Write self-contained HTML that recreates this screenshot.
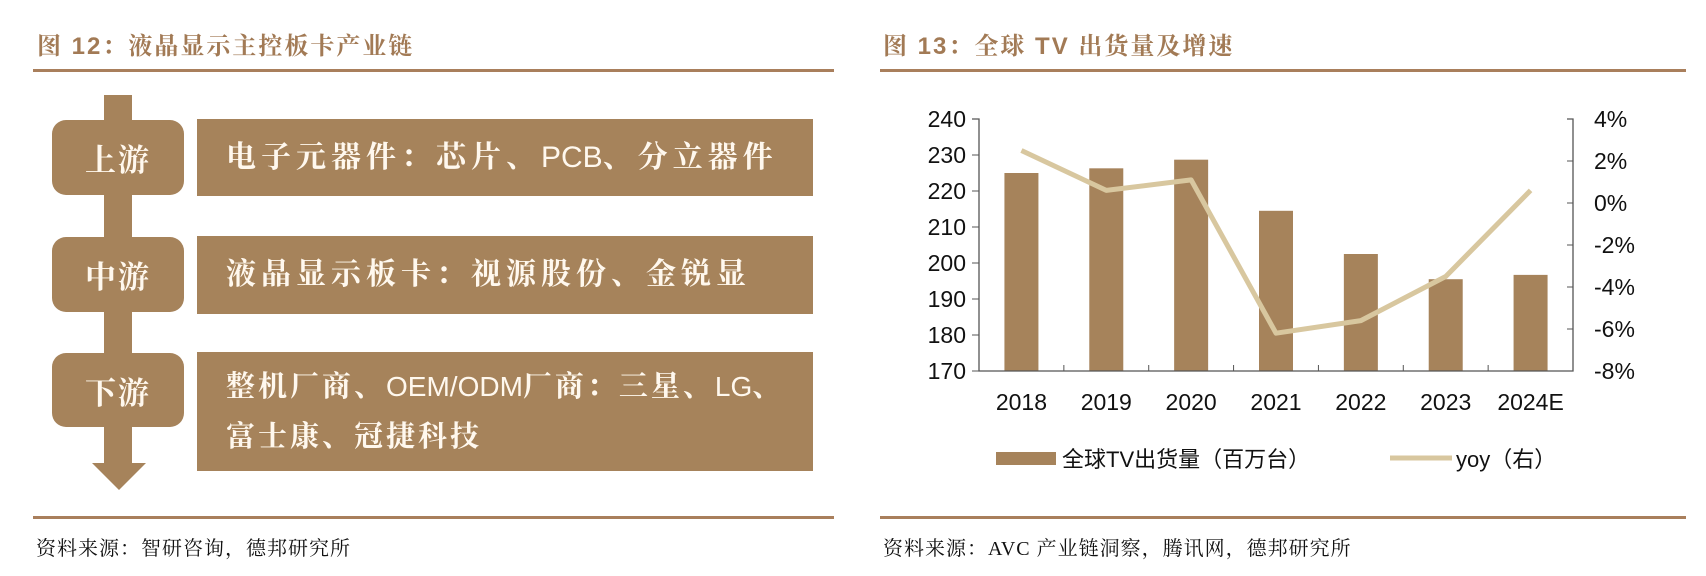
<!DOCTYPE html>
<html><head><meta charset="utf-8"><style>
body{margin:0;width:1706px;height:576px;background:#fff;position:relative;overflow:hidden;font-family:"Liberation Sans","Noto Sans CJK SC",sans-serif}
.abs{position:absolute}
.title{font-family:"Liberation Sans","Noto Serif CJK SC",serif;font-weight:bold;color:#a27a55;font-size:24px;letter-spacing:2px;white-space:nowrap}
.rule{background:#a97f5c;height:3px}
.src{font-family:"Liberation Serif","Noto Serif CJK SC",serif;font-size:20px;color:#111;white-space:nowrap;letter-spacing:1px}
.box{background:#a6835b;border-radius:14px;color:#fff8ee;font-family:"Liberation Serif","Noto Serif CJK SC",serif;font-weight:bold;font-size:31px;letter-spacing:2px;display:flex;align-items:center;justify-content:center}
.rect{background:#a6835b;color:#fff8ee;font-family:"Liberation Sans","Noto Serif CJK SC",serif;font-weight:bold;font-size:30px;letter-spacing:5px;padding-left:29px;box-sizing:border-box;display:flex;align-items:center;line-height:50px;white-space:nowrap}
.lat{letter-spacing:0;font-weight:normal;font-size:30px}
</style></head><body>
<div class="abs title" style="left:37px;top:26px">图 12：液晶显示主控板卡产业链</div>
<div class="abs rule" style="left:33px;top:69px;width:801px"></div>
<div class="abs" style="left:104px;top:95px;width:28px;height:370px;background:#a6835b"></div>
<div class="abs" style="left:92px;top:463px;width:0;height:0;border-left:27px solid transparent;border-right:27px solid transparent;border-top:27px solid #a6835b"></div>
<div class="abs box" style="left:52px;top:120px;width:132px;height:75px">上游</div>
<div class="abs box" style="left:52px;top:237px;width:132px;height:75px">中游</div>
<div class="abs box" style="left:52px;top:353px;width:132px;height:74px">下游</div>
<div class="abs rect" style="left:197px;top:119px;width:616px;height:77px">电子元器件：芯片、<span class="lat">PCB</span>、分立器件</div>
<div class="abs rect" style="left:197px;top:236px;width:616px;height:78px">液晶显示板卡：视源股份、金锐显</div>
<div class="abs rect" style="left:197px;top:352px;width:616px;height:119px;letter-spacing:3px;font-size:29px"><div>整机厂商、<span class="lat" style="font-size:28px">OEM/ODM</span>厂商：三星、<span class="lat" style="font-size:28px">LG</span>、<br>富士康、冠捷科技</div></div>
<div class="abs rule" style="left:33px;top:516px;width:801px"></div>
<div class="abs src" style="left:36px;top:532px">资料来源：智研咨询，德邦研究所</div>

<div class="abs title" style="left:883px;top:26px">图 13：全球 TV 出货量及增速</div>
<div class="abs rule" style="left:880px;top:69px;width:806px"></div>
<div class="abs rule" style="left:880px;top:516px;width:806px"></div>
<div class="abs src" style="left:883px;top:532px">资料来源：AVC 产业链洞察，腾讯网，德邦研究所</div>

<svg class="abs" style="left:0;top:0" width="1706" height="576" id="chart"></svg>
<script>
const categories=["2018","2019","2020","2021","2022","2023","2024E"];
const shipments=[225,226.3,228.7,214.5,202.5,195.5,196.7];
const yoy=[2.5,0.6,1.1,-6.2,-5.6,-3.5,0.6];
const leftTicks=[170,180,190,200,210,220,230,240];
const rightTicks=[-8,-6,-4,-2,0,2,4];
const X0=979,X1=1573,YT=119,YB=371;
const yL=v=>YB-(v-170)/70*(YB-YT);
const yR=v=>YB-(v+8)/12*(YB-YT);
const bw=(X1-X0)/categories.length;
const xc=i=>X0+bw*(i+0.5);
const svg=document.getElementById('chart');
const NS='http://www.w3.org/2000/svg';
function mk(t,a){const e=document.createElementNS(NS,t);for(const k in a)e.setAttribute(k,a[k]);svg.appendChild(e);return e;}
shipments.forEach((v,i)=>{
  const r=mk('rect',{x:xc(i)-17,y:yL(v),width:34,height:YB-yL(v),fill:'#a6835b'});
  
  
});
const ax=mk('path',{d:`M${X0-7},${YT}H${X0}V${YB}H${X1}V${YT}H${X1-6}`,stroke:'#555',fill:'none','stroke-width':1.3});


leftTicks.forEach(t=>{
  mk('line',{x1:X0-7,x2:X0,y1:yL(t),y2:yL(t),stroke:'#555'});
  const tx=mk('text',{x:966,y:yL(t)+8,'text-anchor':'end','font-size':23,fill:'#111'});tx.textContent=t;
  
  
});
rightTicks.forEach(t=>{
  mk('line',{x1:X1-6,x2:X1,y1:yR(t),y2:yR(t),stroke:'#555'});
  const tx=mk('text',{x:1594,y:yR(t)+8,'font-size':23,fill:'#111'});tx.textContent=t+'%';
  
  
});
categories.forEach((c,i)=>{
  if(i>0)mk('line',{x1:X0+bw*i,x2:X0+bw*i,y1:YB,y2:YB-6,stroke:'#555'});
  const tx=mk('text',{x:xc(i),y:410,'text-anchor':'middle','font-size':23,fill:'#111'});tx.textContent=c;
  
  
});
const ln=mk('polyline',{points:yoy.map((v,i)=>xc(i)+','+yR(v)).join(' '),fill:'none',stroke:'#d8c79f','stroke-width':5,'stroke-linejoin':'round'});


const s1=mk('rect',{x:996,y:452,width:60,height:13,fill:'#a6835b'});


const l1=mk('text',{x:1062,y:467,'font-size':22,fill:'#111'});l1.textContent='全球TV出货量（百万台）';


const s2=mk('line',{x1:1390,x2:1452,y1:458,y2:458,stroke:'#d8c79f','stroke-width':5});


const l2=mk('text',{x:1456,y:467,'font-size':22,fill:'#111'});l2.textContent='yoy（右）';


</script>
</body></html>
